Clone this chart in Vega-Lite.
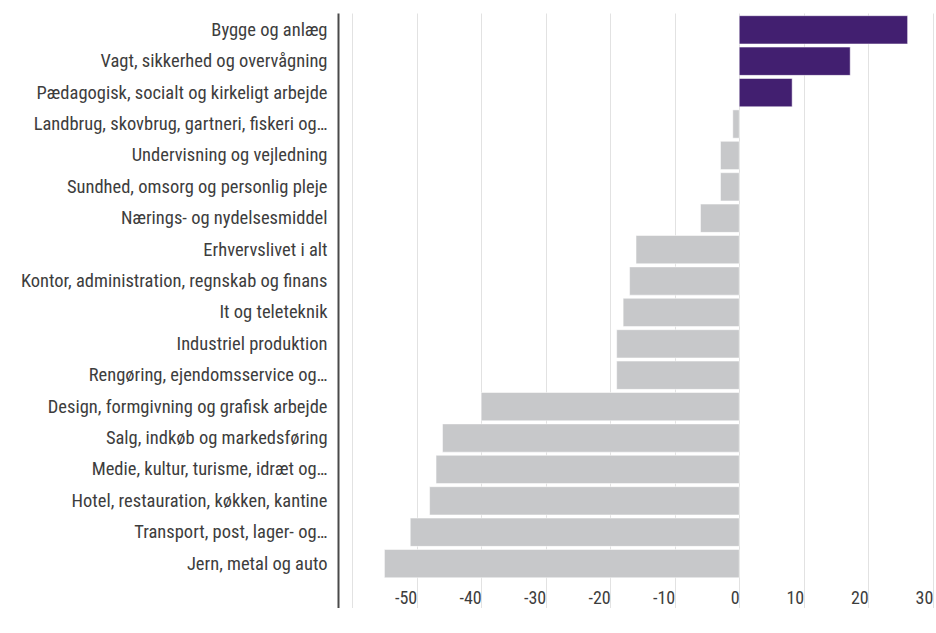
{
  "$schema": "https://vega.github.io/schema/vega-lite/v6.json",
  "autosize": "none",
  "padding": {"left": 338, "top": 13, "right": 0, "bottom": 0},
  "width": 598,
  "height": 595,
  "background": "#ffffff",
  "data": {
    "values": [
      {"kategori": "Bygge og anlæg", "value": 26.1},
      {"kategori": "Vagt, sikkerhed og overvågning", "value": 17.2},
      {"kategori": "Pædagogisk, socialt og kirkeligt arbejde", "value": 8.2},
      {"kategori": "Landbrug, skovbrug, gartneri, fiskeri og…", "value": -1.0},
      {"kategori": "Undervisning og vejledning", "value": -2.9},
      {"kategori": "Sundhed, omsorg og personlig pleje", "value": -2.9},
      {"kategori": "Nærings- og nydelsesmiddel", "value": -6.0},
      {"kategori": "Erhvervslivet i alt", "value": -16.0},
      {"kategori": "Kontor, administration, regnskab og finans", "value": -17.0},
      {"kategori": "It og teleteknik", "value": -18.0},
      {"kategori": "Industriel produktion", "value": -19.0},
      {"kategori": "Rengøring, ejendomsservice og…", "value": -19.0},
      {"kategori": "Design, formgivning og grafisk arbejde", "value": -40.0},
      {"kategori": "Salg, indkøb og markedsføring", "value": -46.0},
      {"kategori": "Medie, kultur, turisme, idræt og…", "value": -47.0},
      {"kategori": "Hotel, restauration, køkken, kantine", "value": -48.0},
      {"kategori": "Transport, post, lager- og…", "value": -51.0},
      {"kategori": "Jern, metal og auto", "value": -55.0}
    ]
  },
  "mark": {"type": "bar", "stroke": "#ffffff", "strokeWidth": 0.5},
  "encoding": {
    "y": {
      "field": "kategori",
      "type": "nominal",
      "sort": null,
      "scale": {"paddingInner": 0.1, "paddingOuter": 0.5245, "align": 0.082},
      "axis": {
        "title": null,
        "ticks": false,
        "grid": false,
        "domain": true,
        "domainColor": "#4a4a4a",
        "domainWidth": 2,
        "labelPadding": 11,
        "labelLimit": 400,
        "labelFontSize": 18.5,
        "labelDy": 1.5,
        "labelFont": "Roboto Condensed, Liberation Sans Narrow, DejaVu Sans Condensed, Roboto, sans-serif",
        "labelColor": "#3d3d3d"
      }
    },
    "x": {
      "field": "value",
      "type": "quantitative",
      "scale": {"domain": [-62.2, 30.5], "nice": false, "zero": false},
      "axis": {
        "title": null,
        "values": [-60, -50, -40, -30, -20, -10, 0, 10, 20, 30],
        "labelExpr": "datum.value < -55 ? '' : '' + datum.value",
        "domain": false,
        "ticks": false,
        "grid": true,
        "gridColor": "#e2e2e2",
        "gridWidth": 1,
        "labelAlign": "right",
        "labelBaseline": "middle",
        "labelPadding": -10,
        "labelDx": -5,
        "labelFlush": false,
        "labelOverlap": false,
        "labelFontSize": 18,
        "labelFont": "Roboto Condensed, Liberation Sans Narrow, DejaVu Sans Condensed, Roboto, sans-serif",
        "labelColor": "#3d3d3d"
      }
    },
    "color": {
      "condition": {"test": "datum.value > 0", "value": "#421f70"},
      "value": "#c7c8ca"
    }
  },
  "config": {"view": {"stroke": null}}
}
